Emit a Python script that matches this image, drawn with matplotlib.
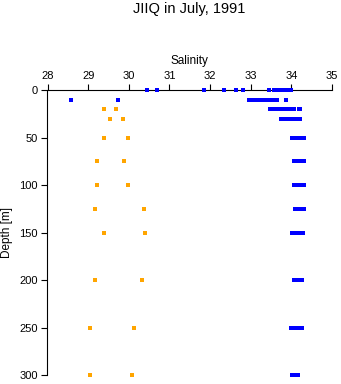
import matplotlib.pyplot as plt

plt.rcParams['font.family'] = ['Liberation Sans', 'DejaVu Sans']

title = "JIIQ in July, 1991"
xticks = [28, 29, 30, 31, 32, 33, 34, 35]
yticks = [0, 50, 100, 150, 200, 250, 300]

# orange samples (bottle?) : depth, salinity
orange_depth = [20, 20, 30, 30, 50, 50, 75, 75, 100, 100, 125, 125,
                150, 150, 200, 200, 250, 250, 300, 300]
orange_sal = [29.40, 29.68, 29.54, 29.86, 29.40, 29.98, 29.22, 29.89, 29.22, 29.99,
              29.18, 30.38, 29.40, 30.41, 29.18, 30.32, 29.05, 30.13, 29.05, 30.09]

# blue samples, grouped by depth
blue_depths = [0, 10, 20, 30, 50, 75, 100, 125, 150, 200, 250, 300]
blue_sal = [
    [30.45, 30.70, 31.86, 32.35, 32.65, 32.82, 33.45, 33.58, 33.63, 33.70, 33.75,
     33.80, 33.85, 33.90, 33.95, 33.99],
    [28.57, 29.73, 32.96, 33.01, 33.06, 33.14, 33.20, 33.25, 33.30, 33.35, 33.40,
     33.45, 33.50, 33.55, 33.60, 33.65, 33.87],
    [33.47, 33.52, 33.57, 33.62, 33.67, 33.72, 33.77, 33.82, 33.87, 33.92, 33.97,
     34.02, 34.07, 34.18, 34.22],
    [33.74, 33.79, 33.84, 33.89, 33.94, 33.99, 34.04, 34.09, 34.14, 34.19, 34.22],
    [34.02, 34.07, 34.12, 34.17, 34.22, 34.27, 34.32],
    [34.07, 34.12, 34.17, 34.22, 34.27, 34.30],
    [34.07, 34.12, 34.17, 34.22, 34.27, 34.32],
    [34.10, 34.15, 34.20, 34.24, 34.31],
    [34.02, 34.07, 34.12, 34.17, 34.21, 34.29],
    [34.07, 34.12, 34.17, 34.22, 34.25],
    [34.00, 34.05, 34.10, 34.15, 34.20, 34.25],
    [34.02, 34.07, 34.12, 34.17],
]

fig = plt.figure(figsize=(3.41, 3.84), dpi=100)
ax = fig.add_axes([47.5 / 341, 1 - 375.3 / 384, (332 - 47.5) / 341, (375.3 - 90) / 384])

for d, row in zip(blue_depths, blue_sal):
    ax.plot(row, [d] * len(row), 's', color='#0000FF', markersize=2.2,
            markeredgewidth=0, clip_on=False, zorder=3)
ax.plot(orange_sal, orange_depth, 's', color='#FFA500', markersize=2.3,
        markeredgewidth=0, clip_on=False, zorder=3)

ax.set_xlim(28, 35)
ax.set_ylim(300, 0)
ax.xaxis.tick_top()
ax.set_xticks(xticks)
ax.set_yticks(yticks)
ax.spines['right'].set_visible(False)
ax.spines['bottom'].set_visible(False)
for s in ['top', 'left']:
    ax.spines[s].set_linewidth(0.8)
ax.tick_params(direction='out', length=4.3, width=0.8, labelsize=8, pad=2.5)

ax.xaxis.set_label_position('top')
ax.set_xlabel('Salinity', fontsize=8.5)
ax.xaxis.label.set_va('center')
ax.xaxis.set_label_coords(0.5, (375.3 - 61) / 285.3)
ax.set_ylabel('Depth [m]', fontsize=8.5)
ax.yaxis.label.set_va('center')
ax.yaxis.set_label_coords((7 - 47.5) / 284.5, 0.5)

fig.text(189 / 341, 1 - 9 / 384, title, ha='center', va='center', fontsize=10.5)

fig.savefig('out.png', dpi=100)
